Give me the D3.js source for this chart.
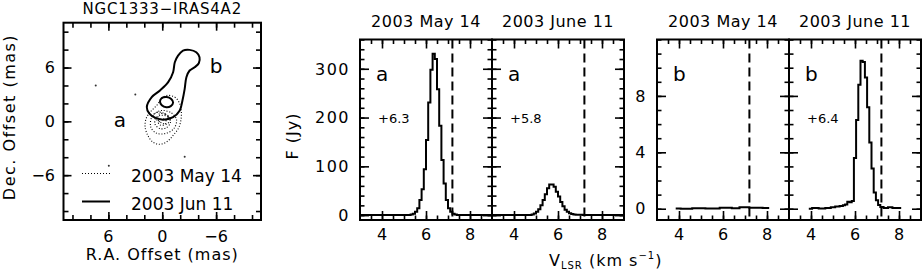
<!DOCTYPE html>
<html>
<head>
<meta charset="utf-8">
<script src="https://cdn.jsdelivr.net/npm/d3@7"></script>
<style>
  body { margin: 0; background: #fff; }
  svg text { font-family: "DejaVu Sans", sans-serif; fill: #000; }
</style>
</head>
<body>
<svg id="chart" width="922" height="276"></svg>
<script>
// ---- spectra (velocity km/s, flux) ----
const velMayA  = [3.0, 5.25, 5.35, 5.45, 5.55, 5.65, 5.75, 5.85, 5.95, 6.05, 6.15, 6.25, 6.35, 6.45, 6.55, 6.65, 6.75, 6.85, 6.95, 7.05, 7.15, 7.25, 7.35, 7.45, 9.0];
const fluxMayA = [0,   0.5,  1.5,  3,    7,    14,   31,   53,   94,   154,  231,  298,  331,  320,  258,  183,  113,  65,   31,   14,   7,    3,    1.5,  0,    0];

const velJunA  = [3.0, 4.75, 4.85, 4.95, 5.05, 5.15, 5.25, 5.35, 5.45, 5.55, 5.65, 5.75, 5.85, 5.95, 6.05, 6.15, 6.25, 6.35, 6.45, 6.55, 6.65, 6.75, 6.85, 7.0, 7.25, 9.0];
const fluxJunA = [0,   0.5,  1.5,  3.5,  7,    12,   20,   31,   43,   55,   63,   63,   58,   48,   38,   27,   18,   11,   7,    4,    2.5,  1.5,  1,    1,   0,    0];

const velMayB  = [3.85, 4.3, 4.9,  5.5,  6.2,  6.6,  6.9, 7.5,  8.1];
const fluxMayB = [0.02, 0.0, 0.03, 0.02, 0.06, 0.04, 0.1, 0.07, 0.05];

const velJunB  = [3.9, 4.2,  4.5,  4.8,  5.0, 5.2,  5.4, 5.5,  5.6, 5.7, 5.8,  5.9,  6.0, 6.1, 6.2, 6.3,  6.4,  6.5, 6.6, 6.7, 6.8,  6.9,  7.0, 7.1,  7.2,  7.4,  7.6, 7.8,  8.1];
const fluxJunB = [0.0, 0.05, 0.02, 0.05, 0.1, 0.15, 0.2, 0.25, 0.3, 0.5, 0.45, 0.55, 3.6, 6.3, 8.8, 10.5, 10.4, 9.3, 7.2, 4.7, 2.85, 1.15, 0.6, 0.27, 0.12, 0.05, 0.1, 0.05, 0.05];

const vDashed = 7.2;                       // dashed reference velocity
const spotA = ["a", "a", "b", "b"];        // spot names
const peakText = ["+6.3", "+5.8", "", "+6.4"];
const dates = ["2003 May 14", "2003 June 11", "2003 May 14", "2003 June 11"];

// tick labels
const velTicks = [4, 6, 8];
const fluxTicksA = [0, 100, 200, 300];
const fluxTicksB = [0, 4, 8];
const offTicks = [6, 0, -6];

// ---- contour map (RA offset, Dec offset in mas) ----
const junOuter = [[1.72,1.59],[1.17,2.7],[0.25,3.44],[-0.66,4.37],[-1.21,5.48],[-1.4,6.59],[-1.76,7.33],[-2.31,7.89],[-3.05,7.97],[-3.79,7.7],[-4.15,7.14],[-4.07,6.48],[-3.6,6.03],[-3.05,5.67],[-2.69,4.92],[-2.5,3.63],[-2.25,2.33],[-1.95,1.22],[-1.21,0.48],[-0.11,0.19],[0.8,0.41],[1.43,0.86]];
const junInner = [[0.25,2.2],[0.05,2.6],[-0.5,2.72],[-1.0,2.5],[-1.21,2.1],[-0.95,1.7],[-0.45,1.58],[0.05,1.8]];
const mayC1 = [[-0.48,2.89],[-1.4,2.7],[-1.95,1.96],[-2.13,0.67],[-1.87,-0.63],[-1.21,-1.56],[-0.48,-2.3],[0.33,-2.56],[1.06,-2.3],[1.61,-1.56],[1.91,-0.63],[1.8,0.3],[1.35,1.03],[0.62,1.78],[0.07,2.52]];
const mayC2 = [[-0.04,1.22],[-1.04,0.93],[-1.59,0.19],[-1.29,-0.81],[-0.3,-1.37],[0.69,-1.3],[1.28,-0.63],[1.17,0.48],[0.62,1.03]];
const mayC3 = [[0.07,0.67],[-0.66,0.48],[-0.92,-0.07],[-0.48,-0.7],[0.25,-0.81],[0.8,-0.33],[0.69,0.41]];
const mayC4 = [[0.07,0.3],[-0.41,0.11],[-0.3,-0.33],[0.25,-0.41],[0.47,0.0]];
const mayC5 = [[0.3,0.85],[-0.35,0.8],[-0.7,0.45],[-0.2,0.2],[0.45,0.35]];
const mayC6 = [[1.0,0.6],[0.2,-0.1],[-0.5,-0.3],[-0.9,0.3],[-0.2,0.9],[0.6,1.0]];
const specks = [[7.41,4.0],[3.0,3.0],[-2.5,-3.96],[5.95,-4.96]];
const legendNames = ["2003 May 14", "2003 Jun 11"];

const svg = d3.select("#chart");
const ink = "#000";

// inward ticks on the four sides of a box through d3 axes
function boxTicks(g, x, y, xMaj, xMin, yMaj, yMin, majLen, minLen) {
  const [xl, xr] = x.range();
  const [yb, yt] = y.range();
  const add = (fn, scale, vals, len, tx, ty) => {
    g.append("g").attr("transform", `translate(${tx},${ty})`)
      .call(fn(scale).tickValues(vals).tickSize(-len).tickSizeOuter(0).tickFormat(""))
      .call(a => a.select(".domain").remove())
      .selectAll("line").attr("stroke", ink).attr("stroke-width", 1.6);
  };
  [[xMin, minLen], [xMaj, majLen]].forEach(([v, l]) => {
    add(d3.axisBottom, x, v, l, 0, yb);
    add(d3.axisTop, x, v, l, 0, yt);
  });
  [[yMin, minLen], [yMaj, majLen]].forEach(([v, l]) => {
    add(d3.axisLeft, y, v, l, xl, 0);
    add(d3.axisRight, y, v, l, xr, 0);
  });
  g.append("rect").attr("x", xl).attr("y", yt).attr("width", xr - xl).attr("height", yb - yt)
    .attr("fill", "none").attr("stroke", ink).attr("stroke-width", 2);
}

// ---------------- spectra panels ----------------
const panelLeft = [360, 492, 657, 789];
const panelW = 132, panelTop = 39.5, panelBottom = 220;
const spectra = [[velMayA, fluxMayA], [velJunA, fluxJunA], [velMayB, fluxMayB], [velJunB, fluxJunB]];

spectra.forEach(([vel, flux], i) => {
  const isA = i < 2;
  const x = d3.scaleLinear().domain([3, 9]).range([panelLeft[i], panelLeft[i] + panelW]);
  const y = d3.scaleLinear().domain(isA ? [-10, 360] : [-0.8, 12]).range([panelBottom, panelTop]);
  const g = svg.append("g");

  g.append("clipPath").attr("id", "clip" + i).append("rect")
    .attr("x", x.range()[0]).attr("y", panelTop).attr("width", panelW).attr("height", panelBottom - panelTop);

  const line = d3.line().x(d => x(d[0])).y(d => y(d[1])).curve(d3.curveStep);
  g.append("path").datum(d3.zip(vel, flux))
    .attr("clip-path", `url(#clip${i})`)
    .attr("d", line).attr("fill", "none").attr("stroke", ink).attr("stroke-width", 2);

  g.append("line")
    .attr("x1", x(vDashed)).attr("x2", x(vDashed)).attr("y1", panelTop).attr("y2", panelBottom)
    .attr("stroke", ink).attr("stroke-width", 2).attr("stroke-dasharray", "9,5");

  const yMaj = isA ? fluxTicksA : fluxTicksB;
  const yMin = isA ? d3.range(0, 361, 20) : d3.range(0, 12.1, 1);
  boxTicks(g, x, y, velTicks, d3.range(3.5, 9, 0.5), yMaj, yMin, 9, 4.5);

  // x tick labels
  g.selectAll(".xl").data(velTicks).join("text")
    .attr("x", d => x(d)).attr("y", 240).attr("text-anchor", "middle")
    .style("font-size", "16px").text(d => d);

  // y tick labels on the first panel of each pair
  if (i === 0 || i === 2) {
    g.selectAll(".yl").data(yMaj).join("text")
      .attr("x", x.range()[0] - 10).attr("y", d => y(d)).attr("dy", "0.36em")
      .attr("text-anchor", "end").style("font-size", "16px").style("letter-spacing", "1.5px")
      .text(d => d);
  }

  g.append("text").attr("x", x.range()[0] + (x.range()[1] - x.range()[0]) / 2).attr("y", 27)
    .attr("text-anchor", "middle").style("font-size", "16px").style("letter-spacing", "0.5px")
    .text(dates[i]);

  g.append("text").attr("x", x.range()[0] + 16).attr("y", 81)
    .style("font-size", "20px").text(spotA[i]);

  if (peakText[i]) {
    g.append("text").attr("x", x.range()[0] + 18).attr("y", 122.5)
      .style("font-size", "13px").text(peakText[i]);
  }
});

// shared axis labels of the spectra
svg.append("text").attr("transform", "translate(298,136) rotate(-90)")
  .attr("text-anchor", "middle").style("font-size", "16px").style("letter-spacing", "1px")
  .text("F (Jy)");

const vlsr = svg.append("text").attr("x", 549).attr("y", 266).style("font-size", "16px").style("letter-spacing", "1px");
vlsr.append("tspan").text("V");
vlsr.append("tspan").attr("dy", 3).style("font-size", "10px").text("LSR");
vlsr.append("tspan").attr("dy", -3).text(" (km s");
vlsr.append("tspan").attr("dy", -7).style("font-size", "10px").text("−1");
vlsr.append("tspan").attr("dy", 7).text(")");

// ---------------- contour map ----------------
const mx = d3.scaleLinear().domain([11, -11]).range([63.5, 261]);
const my = d3.scaleLinear().domain([-11, 11]).range([220, 22.7]);
const gm = svg.append("g");
const closed = d3.line().x(d => mx(d[0])).y(d => my(d[1])).curve(d3.curveCatmullRomClosed.alpha(0.5));

[mayC1, mayC2, mayC3, mayC4, mayC5, mayC6].forEach(c => {
  gm.append("path").datum(c).attr("d", closed).attr("fill", "none")
    .attr("stroke", ink).attr("stroke-width", 1.1).attr("stroke-dasharray", "1,1.8");
});
[junOuter, junInner].forEach(c => {
  gm.append("path").datum(c).attr("d", closed).attr("fill", "none")
    .attr("stroke", ink).attr("stroke-width", 2);
});
gm.selectAll(".speck").data(specks).join("circle")
  .attr("cx", d => mx(d[0])).attr("cy", d => my(d[1])).attr("r", 1).attr("fill", "#333");

boxTicks(gm, mx, my, [-6, 0, 6], d3.range(-10, 11, 2), [-6, 0, 6], d3.range(-10, 11, 2), 8, 5);

gm.selectAll(".mxl").data(offTicks).join("text")
  .attr("x", d => mx(d)).attr("y", 242).attr("text-anchor", "middle")
  .style("font-size", "16px").text(d => d < 0 ? "−" + (-d) : d);
gm.selectAll(".myl").data(offTicks).join("text")
  .attr("x", 55).attr("y", d => my(d)).attr("dy", "0.36em").attr("text-anchor", "end")
  .style("font-size", "16px").text(d => d < 0 ? "−" + (-d) : d);

gm.append("text").attr("x", 162.3).attr("y", 14).attr("text-anchor", "middle")
  .style("font-size", "15px").style("letter-spacing", "0.8px").text("NGC1333−IRAS4A2");
gm.append("text").attr("x", 162.3).attr("y", 260).attr("text-anchor", "middle")
  .style("font-size", "16px").style("letter-spacing", "1px").text("R.A. Offset (mas)");
gm.append("text").attr("transform", "translate(15,117) rotate(-90)").attr("text-anchor", "middle")
  .style("font-size", "16px").style("letter-spacing", "1.5px").text("Dec. Offset (mas)");

gm.append("text").attr("x", mx(5.4)).attr("y", my(-0.6)).style("font-size", "20px").text("a");
gm.append("text").attr("x", mx(-5.3)).attr("y", my(5.4)).style("font-size", "20px").text("b");

// legend
const legY = [173.5, 201.5];
legendNames.forEach((name, i) => {
  gm.append("line").attr("x1", 82).attr("x2", 110).attr("y1", legY[i]).attr("y2", legY[i])
    .attr("stroke", ink).attr("stroke-width", i ? 2 : 1).attr("stroke-dasharray", i ? null : "1,2");
  gm.append("text").attr("x", 131).attr("y", legY[i] + 8).style("font-size", "17px").text(name);
});
</script>
</body>
</html>
